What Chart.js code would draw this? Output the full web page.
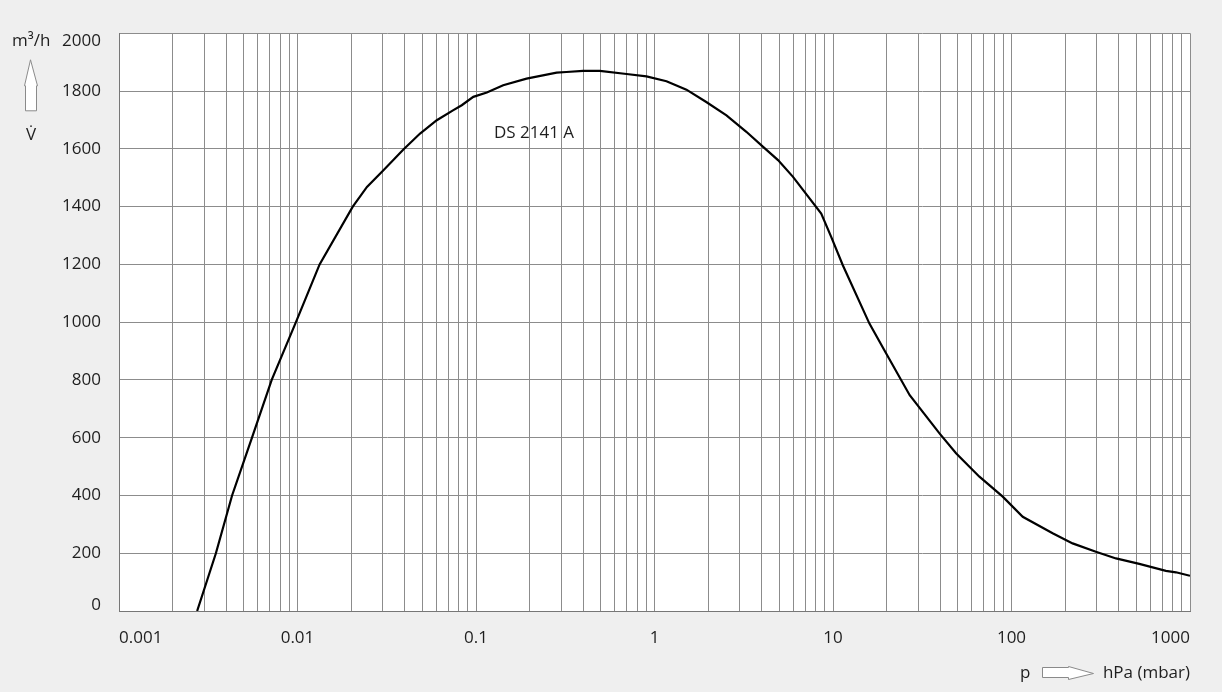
<!DOCTYPE html>
<html lang="de">
<head>
    <meta charset="UTF-8">
    <meta name="viewport" content="width=device-width, initial-scale=1.0">
    <title>DS 2141 A</title>
    <script src="https://cdn.jsdelivr.net/npm/chart.js"></script>
    <style>
        html, body { margin: 0; padding: 0; background: #efefef; }
        #wrap { width: 1222px; height: 692px; }
    </style>
</head>
<body>
    <div id="wrap"><canvas id="kurve"></canvas></div>

    <script>
        // Saugvermoegen ueber Ansaugdruck
        const druck = [0.00274, 0.00349, 0.0043, 0.00556, 0.00717, 0.0098, 0.0133, 0.0204, 0.0245,
                       0.0303, 0.0392, 0.0486, 0.0603, 0.0747, 0.0832, 0.0966, 0.115, 0.142, 0.192,
                       0.283, 0.321, 0.398, 0.494, 0.697, 0.902, 1.167, 1.51, 1.95, 2.53,
                       3.27, 4.06, 4.92, 5.97, 8.59, 9.77, 11.35, 16.0, 19.4, 26.9,
                       39.5, 48.9, 66.1, 89.3, 115.6, 170, 220, 297, 385, 520,
                       733, 834, 1000];
        const saugvermoegen = [0, 200, 400, 600, 800, 1000, 1200, 1400, 1468,
                       1526, 1598, 1653, 1699, 1734, 1751, 1780, 1795, 1820, 1843,
                       1864, 1866, 1870, 1870, 1859, 1851, 1834, 1805, 1762, 1716,
                       1659, 1607, 1561, 1503, 1376, 1295, 1197, 995, 903, 747,
                       615, 546, 465, 396, 326, 269, 234, 205, 182, 163,
                       139, 134, 122];

        const dekaden = [0.001, 0.01, 0.1, 1, 10, 100, 1000];
        const dekadenText = ['0.001', '0.01', '0.1', '1', '10', '100', '1000'];
        const yTicks = [0, 200, 400, 600, 800, 1000, 1200, 1400, 1600, 1800, 2000];

        const kurvenName = 'DS 2141 A';
        const namePos = { x: 0.126, y: 1655 };

        const schrift = '"Open Sans", sans-serif';
        const textFarbe = '#1e1e1e';
        const gitterFarbe = '#8c8c8c';

        const punkte = druck.map((p, i) => ({ x: p, y: saugvermoegen[i] }));

        // weisser Hintergrund, Achsentitel mit Pfeilen, Kurvenname
        const deko = {
            id: 'deko',
            beforeDraw(chart) {
                const { ctx, chartArea: a } = chart;
                ctx.save();
                ctx.fillStyle = '#fff';
                ctx.fillRect(a.left, a.top, a.right - a.left, a.bottom - a.top);
                ctx.restore();
            },
            afterDraw(chart) {
                const { ctx, chartArea: a, scales } = chart;
                ctx.save();
                ctx.fillStyle = textFarbe;
                ctx.font = '17px ' + schrift;
                ctx.textBaseline = 'middle';

                // y-Titel
                ctx.textAlign = 'left';
                ctx.fillText('m³/h', 12, a.top + 8);
                ctx.textAlign = 'center';
                ctx.fillText('V̇', 31, a.top + 102);

                ctx.strokeStyle = '#8a8a8a';
                ctx.lineWidth = 1;
                ctx.fillStyle = '#fff';
                ctx.beginPath();
                ctx.moveTo(30.5, a.top + 26.5);
                ctx.lineTo(37.5, a.top + 52.5);
                ctx.lineTo(36.5, a.top + 52.5);
                ctx.lineTo(36.5, a.top + 77.5);
                ctx.lineTo(25.5, a.top + 77.5);
                ctx.lineTo(25.5, a.top + 52.5);
                ctx.lineTo(24.5, a.top + 52.5);
                ctx.closePath();
                ctx.fill();
                ctx.stroke();

                // x-Titel
                const ty = a.bottom + 62;
                ctx.fillStyle = textFarbe;
                ctx.textAlign = 'left';
                ctx.fillText('p', a.right - 170, ty);
                ctx.textAlign = 'right';
                ctx.fillText('hPa (mbar)', a.right, ty);

                ctx.fillStyle = '#fff';
                const x0 = a.right - 147.5, x1 = a.right - 96.5;
                ctx.beginPath();
                ctx.moveTo(x0, ty - 5.5);
                ctx.lineTo(x1 - 25, ty - 5.5);
                ctx.lineTo(x1 - 25, ty - 6.5);
                ctx.lineTo(x1, ty + 0.5);
                ctx.lineTo(x1 - 25, ty + 6.5);
                ctx.lineTo(x1 - 25, ty + 4.5);
                ctx.lineTo(x0, ty + 4.5);
                ctx.closePath();
                ctx.fill();
                ctx.stroke();

                // Kurvenname
                ctx.fillStyle = textFarbe;
                ctx.textAlign = 'left';
                ctx.fillText(kurvenName, scales.x.getPixelForValue(namePos.x), scales.y.getPixelForValue(namePos.y));
                ctx.restore();
            }
        };

        const ctx = document.getElementById('kurve');

        new Chart(ctx, {
            type: 'line',
            data: {
                datasets: [{
                    label: kurvenName,
                    data: punkte,
                    borderColor: '#000',
                    borderWidth: 2.2,
                    pointRadius: 0,
                    tension: 0,
                    fill: false
                }]
            },
            options: {
                responsive: true,
                maintainAspectRatio: false,
                animation: false,
                events: [],
                layout: { padding: { left: 0, right: 32, top: 33, bottom: 0 } },
                plugins: {
                    legend: { display: false },
                    tooltip: { enabled: false }
                },
                scales: {
                    x: {
                        type: 'logarithmic',
                        min: dekaden[0],
                        max: dekaden[dekaden.length - 1],
                        afterBuildTicks: scale => {
                            const t = [];
                            dekaden.forEach((d, i) => {
                                const bis = i === dekaden.length - 1 ? 1 : 9;
                                for (let k = 1; k <= bis; k++) t.push({ value: d * k });
                            });
                            scale.ticks = t;
                        },
                        afterFit: scale => { scale.height = 81; },
                        grid: { color: gitterFarbe, lineWidth: 1, drawTicks: false },
                        border: { color: '#777', width: 1 },
                        ticks: {
                            autoSkip: false,
                            maxRotation: 0,
                            align: 'inner',
                            padding: 17,
                            color: textFarbe,
                            font: { family: schrift, size: 17 },
                            callback: (v, i) => i % 9 === 0 ? dekadenText[i / 9] : ''
                        }
                    },
                    y: {
                        min: yTicks[0],
                        max: yTicks[yTicks.length - 1],
                        afterBuildTicks: scale => { scale.ticks = yTicks.map(v => ({ value: v })); },
                        afterFit: scale => { scale.width = 119; },
                        grid: { color: gitterFarbe, lineWidth: 1, drawTicks: false },
                        border: { color: '#777', width: 1 },
                        ticks: {
                            padding: 18,
                            color: textFarbe,
                            font: ctx => ({ family: schrift, size: 17, lineHeight: ctx.index === 0 ? 0.7 : 0.9 }),
                            callback: (v, i) => {
                                if (i === 0) return [String(v), ''];
                                if (i === yTicks.length - 1) return ['', String(v)];
                                return String(v);
                            }
                        }
                    }
                }
            },
            plugins: [deko]
        });
    </script>
</body>
</html>
